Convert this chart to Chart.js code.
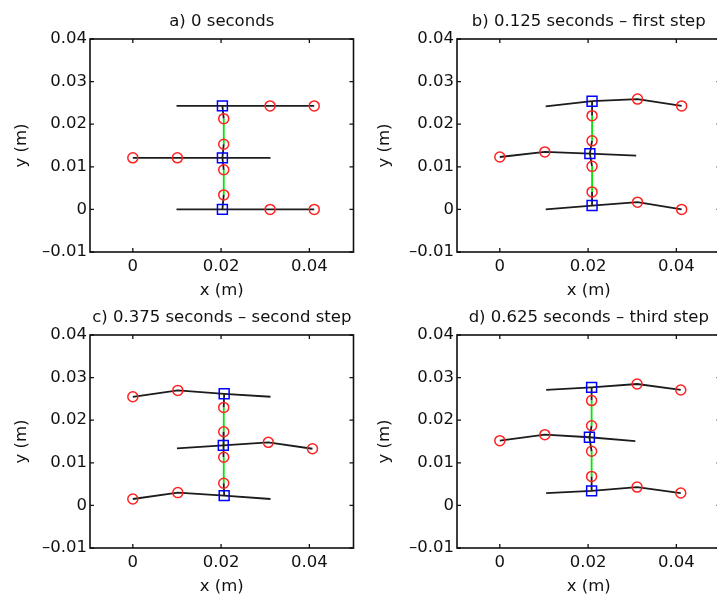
<!DOCTYPE html>
<html><head><meta charset="utf-8">
<script src="https://cdn.jsdelivr.net/npm/chart.js@4/dist/chart.umd.min.js"></script>
<style>
html,body{margin:0;padding:0;background:#fff;overflow:hidden;}
#wrap{position:relative;width:717px;height:597px;overflow:hidden;background:#fff;}
canvas{position:absolute;}
</style></head><body>
<div id="wrap">
<canvas id="pa"></canvas><canvas id="pb"></canvas><canvas id="pc"></canvas><canvas id="pd"></canvas>
</div>
<script>
// ---- axes ----
const X_TICKS = [0, 0.02, 0.04];
const X_TICK_LABELS = ['0', '0.02', '0.04'];
const Y_TICKS = [-0.01, 0, 0.01, 0.02, 0.03, 0.04];
const Y_TICK_LABELS = ['–0.01', '0', '0.01', '0.02', '0.03', '0.04'];
const X_LABEL = 'x (m)';
const Y_LABEL = 'y (m)';
const TITLES = ['a) 0 seconds', 'b) 0.125 seconds – first step', 'c) 0.375 seconds – second step', 'd) 0.625 seconds – third step'];

// ---- panel a: 0 s ----
const A_TOP = [[0.0099, 0.0243], [0.0203, 0.0243], [0.0311, 0.0243], [0.0411, 0.0243]];
const A_MID = [[0.0000, 0.0121], [0.0101, 0.0121], [0.0203, 0.0121], [0.0312, 0.0121]];
const A_BOT = [[0.0099, 0.0000], [0.0203, 0.0000], [0.0311, 0.0000], [0.0411, 0.0000]];
const A_NODES = [[0.0206, 0.0213], [0.0206, 0.0153], [0.0206, 0.0093], [0.0206, 0.0034]];

// ---- panel b: 0.125 s ----
const B_TOP = [[0.0104, 0.0242], [0.0209, 0.0254], [0.0312, 0.0259], [0.0412, 0.0243]];
const B_MID = [[0.0000, 0.0123], [0.0102, 0.0135], [0.0204, 0.0131], [0.0309, 0.0126]];
const B_BOT = [[0.0104, 0.0000], [0.0209, 0.0009], [0.0312, 0.0017], [0.0412, 0.0000]];
const B_NODES = [[0.0209, 0.0220], [0.0209, 0.0161], [0.0209, 0.0101], [0.0209, 0.0041]];

// ---- panel c: 0.375 s ----
const C_TOP = [[0.0000, 0.0255], [0.0102, 0.0270], [0.0207, 0.0262], [0.0312, 0.0255]];
const C_MID = [[0.0100, 0.0134], [0.0205, 0.0141], [0.0307, 0.0148], [0.0407, 0.0133]];
const C_BOT = [[0.0000, 0.0015], [0.0102, 0.0030], [0.0207, 0.0023], [0.0312, 0.0015]];
const C_NODES = [[0.0206, 0.0230], [0.0206, 0.0173], [0.0206, 0.0113], [0.0206, 0.0052]];

// ---- panel d: 0.625 s ----
const D_TOP = [[0.0105, 0.0271], [0.0208, 0.0277], [0.0311, 0.0285], [0.0410, 0.0271]];
const D_MID = [[0.0000, 0.0152], [0.0102, 0.0166], [0.0203, 0.0160], [0.0307, 0.0151]];
const D_BOT = [[0.0105, 0.0029], [0.0208, 0.0034], [0.0311, 0.0043], [0.0410, 0.0029]];
const D_NODES = [[0.0208, 0.0246], [0.0208, 0.0187], [0.0208, 0.0127], [0.0208, 0.0068]];

// ---- styling ----
const LINE = '#1c1c1c', RED = '#ff2020', BLUE = '#0000ff', GREEN = '#00e600', TEXT = '#111';
const FONT = { family: 'DejaVu Sans', size: 16.5, lineHeight: 1.2 };

const framePlugin = {
  id: 'frame',
  afterDraw(chart, args, opts) {
    const { ctx, chartArea: { left, right, top, bottom }, scales: { x, y } } = chart;
    ctx.save();
    ctx.strokeStyle = '#111';
    ctx.lineWidth = 1.6;
    ctx.strokeRect(left, top, right - left, bottom - top);
    ctx.lineWidth = 1.3;
    ctx.beginPath();
    X_TICKS.forEach(v => {
      const px = x.getPixelForValue(v);
      ctx.moveTo(px, bottom); ctx.lineTo(px, bottom - 4);
      ctx.moveTo(px, top); ctx.lineTo(px, top + 4);
    });
    Y_TICKS.forEach(v => {
      const py = y.getPixelForValue(v);
      ctx.moveTo(left, py); ctx.lineTo(left + 4, py);
      ctx.moveTo(right, py); ctx.lineTo(right - 4, py);
    });
    ctx.stroke();
    ctx.fillStyle = TEXT;
    ctx.font = FONT.size + 'px "' + FONT.family + '"';
    ctx.textAlign = 'center';
    ctx.textBaseline = 'middle';
    ctx.fillText(opts.title, (left + right) / 2, top - 17);
    ctx.restore();
  }
};

function buildPanel(id, g, title, legs, nodes) {
  const cv = document.getElementById(id);
  cv.width = g.w; cv.height = g.h;
  cv.style.left = g.left + 'px'; cv.style.top = g.top + 'px';
  cv.style.width = g.w + 'px'; cv.style.height = g.h + 'px';
  const spineX = nodes[0][0];
  const datasets = [];
  const joints = [];
  legs.forEach(leg => {
    const j = Math.abs(leg[1][0] - spineX) < Math.abs(leg[2][0] - spineX) ? 1 : 2;
    const free = j === 1 ? 0 : 3;
    joints.push(leg[j]);
    datasets.push({
      data: leg.map(p => ({ x: p[0], y: p[1] })),
      showLine: true, borderColor: LINE, borderWidth: 1.8,
      pointStyle: leg.map((p, i) => i === j ? 'rect' : 'circle'),
      pointRadius: leg.map((p, i) => i === free ? 0 : (i === j ? 7 : 5)),
      pointHoverRadius: leg.map((p, i) => i === free ? 0 : (i === j ? 7 : 5)),
      pointBorderColor: leg.map((p, i) => i === j ? BLUE : RED),
      pointBackgroundColor: 'rgba(0,0,0,0)',
      pointBorderWidth: 1.5
    });
  });
  const spine = [joints[0], nodes[0], nodes[1], joints[1], nodes[2], nodes[3], joints[2]];
  datasets.push({
    data: spine.map(p => ({ x: p[0], y: p[1] })),
    showLine: true, borderWidth: 1.8, borderColor: LINE,
    segment: { borderColor: c => (c.p0DataIndex === 1 || c.p0DataIndex === 4) ? GREEN : LINE },
    pointStyle: 'circle',
    pointRadius: spine.map((p, i) => (i % 3 === 0) ? 0 : 5),
    pointHoverRadius: spine.map((p, i) => (i % 3 === 0) ? 0 : 5),
    pointBorderColor: RED, pointBackgroundColor: 'rgba(0,0,0,0)', pointBorderWidth: 1.5
  });

  new Chart(cv, {
    type: 'scatter',
    data: { datasets },
    plugins: [framePlugin],
    options: {
      responsive: false, animation: false, devicePixelRatio: 1,
      events: [],
      layout: { padding: { top: g.padTop, right: 3, left: 0, bottom: 0 } },
      plugins: { legend: { display: false }, tooltip: { enabled: false }, frame: { title } },
      scales: {
        x: {
          type: 'linear', min: -0.0097, max: 0.05,
          afterBuildTicks: s => { s.ticks = X_TICKS.map(v => ({ value: v })); },
          afterFit: s => { s.height = 58; },
          grid: { display: false, drawTicks: false }, border: { display: false },
          ticks: { callback: (v, i) => X_TICK_LABELS[i], color: TEXT, font: FONT, padding: 5, maxRotation: 0, autoSkip: false },
          title: { display: true, text: X_LABEL, color: TEXT, font: FONT, padding: { top: 0, bottom: 9 } }
        },
        y: {
          type: 'linear', min: -0.01, max: 0.04,
          afterBuildTicks: s => { s.ticks = Y_TICKS.map(v => ({ value: v })); },
          afterFit: s => { s.width = g.yw; },
          grid: { display: false, drawTicks: false }, border: { display: false },
          ticks: { callback: (v, i) => Y_TICK_LABELS[i], color: TEXT, font: FONT, padding: 3, autoSkip: false },
          title: { display: true, text: Y_LABEL, color: TEXT, font: FONT, padding: { top: g.ytPad, bottom: 0 } }
        }
      }
    }
  });
}

buildPanel('pa', { left: 0, top: 0, w: 360, h: 310, padTop: 39, yw: 90, ytPad: 12 }, TITLES[0], [A_TOP, A_MID, A_BOT], A_NODES);
buildPanel('pb', { left: 360, top: 0, w: 367, h: 310, padTop: 39, yw: 97, ytPad: 15 }, TITLES[1], [B_TOP, B_MID, B_BOT], B_NODES);
buildPanel('pc', { left: 0, top: 300, w: 360, h: 306, padTop: 35, yw: 90, ytPad: 12 }, TITLES[2], [C_TOP, C_MID, C_BOT], C_NODES);
buildPanel('pd', { left: 360, top: 300, w: 367, h: 306, padTop: 35, yw: 97, ytPad: 15 }, TITLES[3], [D_TOP, D_MID, D_BOT], D_NODES);
</script>
</body></html>
